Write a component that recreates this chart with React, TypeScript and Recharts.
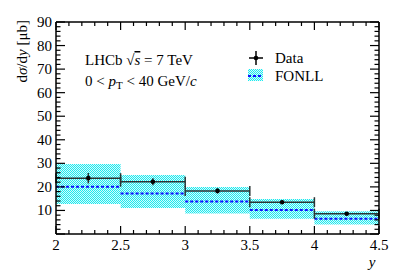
import React from 'react';
import { ComposedChart, Area, Line, Scatter, ErrorBar, XAxis, YAxis } from 'recharts';

// bin edges in rapidity y
const edges = [2, 2.5, 3, 3.5, 4, 4.5];
const centers = [2.25, 2.75, 3.25, 3.75, 4.25];
const halfWidth = [0.25, 0.25, 0.25, 0.25, 0.25];

// LHCb data, dsigma/dy [ub]
const dataVal = [23.7, 22.2, 18.3, 13.5, 8.6];
const dataErr = [2.2, 1.5, 1.1, 0.8, 0.5];

// FONLL prediction
const fonllVal = [20.1, 17.2, 13.8, 10.2, 6.5];
const fonllLo = [12.7, 11.0, 8.7, 6.5, 4.0];
const fonllHi = [29.7, 25.0, 19.9, 14.9, 9.7];

const xTicks = [2, 2.1, 2.2, 2.3, 2.4, 2.5, 2.6, 2.7, 2.8, 2.9, 3, 3.1, 3.2, 3.3, 3.4, 3.5, 3.6, 3.7, 3.8, 3.9, 4, 4.1, 4.2, 4.3, 4.4, 4.5];
const yTicks = [0, 2, 4, 6, 8, 10, 12, 14, 16, 18, 20, 22, 24, 26, 28, 30, 32, 34, 36, 38, 40, 42, 44, 46, 48, 50, 52, 54, 56, 58, 60, 62, 64, 66, 68, 70, 72, 74, 76, 78, 80, 82, 84, 86, 88, 90];

const bandData = edges.map((x, i) => {
	var k = Math.min(i, fonllLo.length - 1);
	return { x: x, band: [fonllLo[k], fonllHi[k]] };
});

var fonllLine: { x: number; f: number | null }[] = [];
for (var i = 0; i < fonllVal.length; i++) {
	fonllLine.push({ x: edges[i], f: fonllVal[i] });
	fonllLine.push({ x: edges[i + 1], f: fonllVal[i] });
	fonllLine.push({ x: edges[i + 1], f: null });
}

const points = centers.map((c, i) => ({ x: c, y: dataVal[i], ex: halfWidth[i], ey: dataErr[i] }));

const isMajorX = (v: number) => Math.abs(v * 2 - Math.round(v * 2)) < 1e-6;
const isMajorY = (v: number) => v % 10 === 0;

function BottomTick(props: any) {
	const { x, y, payload } = props;
	const major = isMajorX(payload.value);
	return (
		<g>
			<line x1={x} x2={x} y1={y} y2={y - (major ? 8 : 4)} stroke="#000" strokeWidth={1.2} />
			{major && (
				<text x={x} y={y + 16} textAnchor="middle" fontFamily="Liberation Serif" fontSize={15} fill="#000">
					{payload.value}
				</text>
			)}
		</g>
	);
}

function TopTick(props: any) {
	const { x, y, payload } = props;
	const major = isMajorX(payload.value);
	return <line x1={x} x2={x} y1={y} y2={y + (major ? 8 : 4)} stroke="#000" strokeWidth={1.2} />;
}

function LeftTick(props: any) {
	const { x, y, payload } = props;
	const major = isMajorY(payload.value);
	return (
		<g>
			<line x1={x} x2={x + (major ? 9 : 4.5)} y1={y} y2={y} stroke="#000" strokeWidth={1.2} />
			{major && payload.value > 0 && (
				<text x={x - 4} y={y + 5} textAnchor="end" fontFamily="Liberation Serif" fontSize={15} fill="#000">
					{payload.value}
				</text>
			)}
		</g>
	);
}

function RightTick(props: any) {
	const { x, y, payload } = props;
	const major = isMajorY(payload.value);
	return <line x1={x} x2={x - (major ? 9 : 4.5)} y1={y} y2={y} stroke="#000" strokeWidth={1.2} />;
}

export default function App() {
	return (
		<div style={{ position: 'absolute', left: 0, top: 0, width: 399, height: 278, background: '#fff', fontFamily: 'Liberation Serif' }}>
			<ComposedChart width={399} height={278} margin={{ top: 12, right: 10, bottom: 14, left: 16 }}>
				<defs>
					<pattern id="hatch" width={2} height={2} patternUnits="userSpaceOnUse">
						<rect x={0} y={0} width={2} height={2} fill="#d4fcfc" />
						<rect x={0} y={0} width={1} height={1} fill="#1ee8ee" />
						<rect x={1} y={1} width={1} height={1} fill="#1ee8ee" />
					</pattern>
				</defs>

				<XAxis dataKey="x" type="number" domain={[2, 4.5]} ticks={xTicks} interval={0} allowDataOverflow
					height={30} tickSize={0} tickMargin={0} tickLine={false} tick={<BottomTick />}
					axisLine={{ stroke: '#000', strokeWidth: 1.5 }} />
				<XAxis xAxisId="top" orientation="top" dataKey="x" type="number" domain={[2, 4.5]} ticks={xTicks} interval={0}
					allowDataOverflow height={10} tickSize={0} tickMargin={0} tickLine={false} tick={<TopTick />}
					axisLine={{ stroke: '#000', strokeWidth: 1.5 }} />
				<YAxis type="number" domain={[0, 90]} ticks={yTicks} interval={0} allowDataOverflow width={40}
					tickSize={0} tickMargin={0} tickLine={false} tick={<LeftTick />}
					axisLine={{ stroke: '#000', strokeWidth: 1.5 }} />
				<YAxis yAxisId="right" orientation="right" type="number" domain={[0, 90]} ticks={yTicks} interval={0}
					allowDataOverflow width={10} tickSize={0} tickMargin={0} tickLine={false} tick={<RightTick />}
					axisLine={{ stroke: '#000', strokeWidth: 1.5 }} />

				<Area data={bandData} dataKey="band" type="stepAfter" stroke="none" fill="url(#hatch)" fillOpacity={1}
					isAnimationActive={false} />
				<Line data={fonllLine} dataKey="f" type="linear" stroke="#1010ff" strokeWidth={2} strokeDasharray="3 2"
					dot={false} activeDot={false} connectNulls={false} isAnimationActive={false} />
				<Scatter data={points} dataKey="y" fill="#000" isAnimationActive={false}
					shape={(p: any) => <circle cx={p.cx} cy={p.cy} r={2.3} fill="#000" />}>
					<ErrorBar dataKey="ex" direction="x" width={5} stroke="#2a3434" strokeWidth={1.5} />
					<ErrorBar dataKey="ey" direction="y" width={0} stroke="#2a3434" strokeWidth={1.5} />
				</Scatter>
			</ComposedChart>

			{/* titles, annotation and legend */}
			<svg width={399} height={278} style={{ position: 'absolute', left: 0, top: 0, pointerEvents: 'none' }}>
				<defs>
					<pattern id="hatch2" width={2} height={2} patternUnits="userSpaceOnUse">
						<rect x={0} y={0} width={2} height={2} fill="#d4fcfc" />
						<rect x={0} y={0} width={1} height={1} fill="#1ee8ee" />
						<rect x={1} y={1} width={1} height={1} fill="#1ee8ee" />
					</pattern>
				</defs>
				<text x={27} y={20} transform="rotate(-90 27 20)" textAnchor="end" fontFamily="Liberation Serif" fontSize={15} fill="#000">
					d<tspan fontStyle="italic">{'\u03C3'}</tspan>/d<tspan fontStyle="italic">y</tspan> [{'\u03BC'}b]
				</text>
				<text x={372} y={267} textAnchor="middle" fontFamily="Liberation Serif" fontSize={15} fontStyle="italic" fill="#000">y</text>

				<text x={85} y={65} fontFamily="Liberation Serif" fontSize={15} fill="#000">
					LHCb {'\u221A'}<tspan fontStyle="italic" textDecoration="overline">s</tspan> = 7 TeV
				</text>
				<text x={85} y={86} fontFamily="Liberation Serif" fontSize={15} fill="#000">
					0 &lt; <tspan fontStyle="italic">p</tspan><tspan fontSize={11} dy={3}>T</tspan><tspan dy={-3}> &lt; 40 GeV/</tspan><tspan fontStyle="italic">c</tspan>
				</text>

				<line x1={249} x2={263} y1={58} y2={58} stroke="#000" strokeWidth={1.5} />
				<line x1={256} x2={256} y1={51} y2={65} stroke="#000" strokeWidth={1.5} />
				<circle cx={256} cy={58} r={2.3} fill="#000" />
				<text x={275} y={63} fontFamily="Liberation Serif" fontSize={15} fill="#000">Data</text>
				<rect x={248} y={69} width={15} height={12} fill="url(#hatch2)" />
				<line x1={248} x2={263} y1={76} y2={76} stroke="#1010ff" strokeWidth={2} strokeDasharray="3 2" />
				<text x={275} y={81} fontFamily="Liberation Serif" fontSize={15} fill="#000">FONLL</text>
			</svg>
		</div>
	);
}
